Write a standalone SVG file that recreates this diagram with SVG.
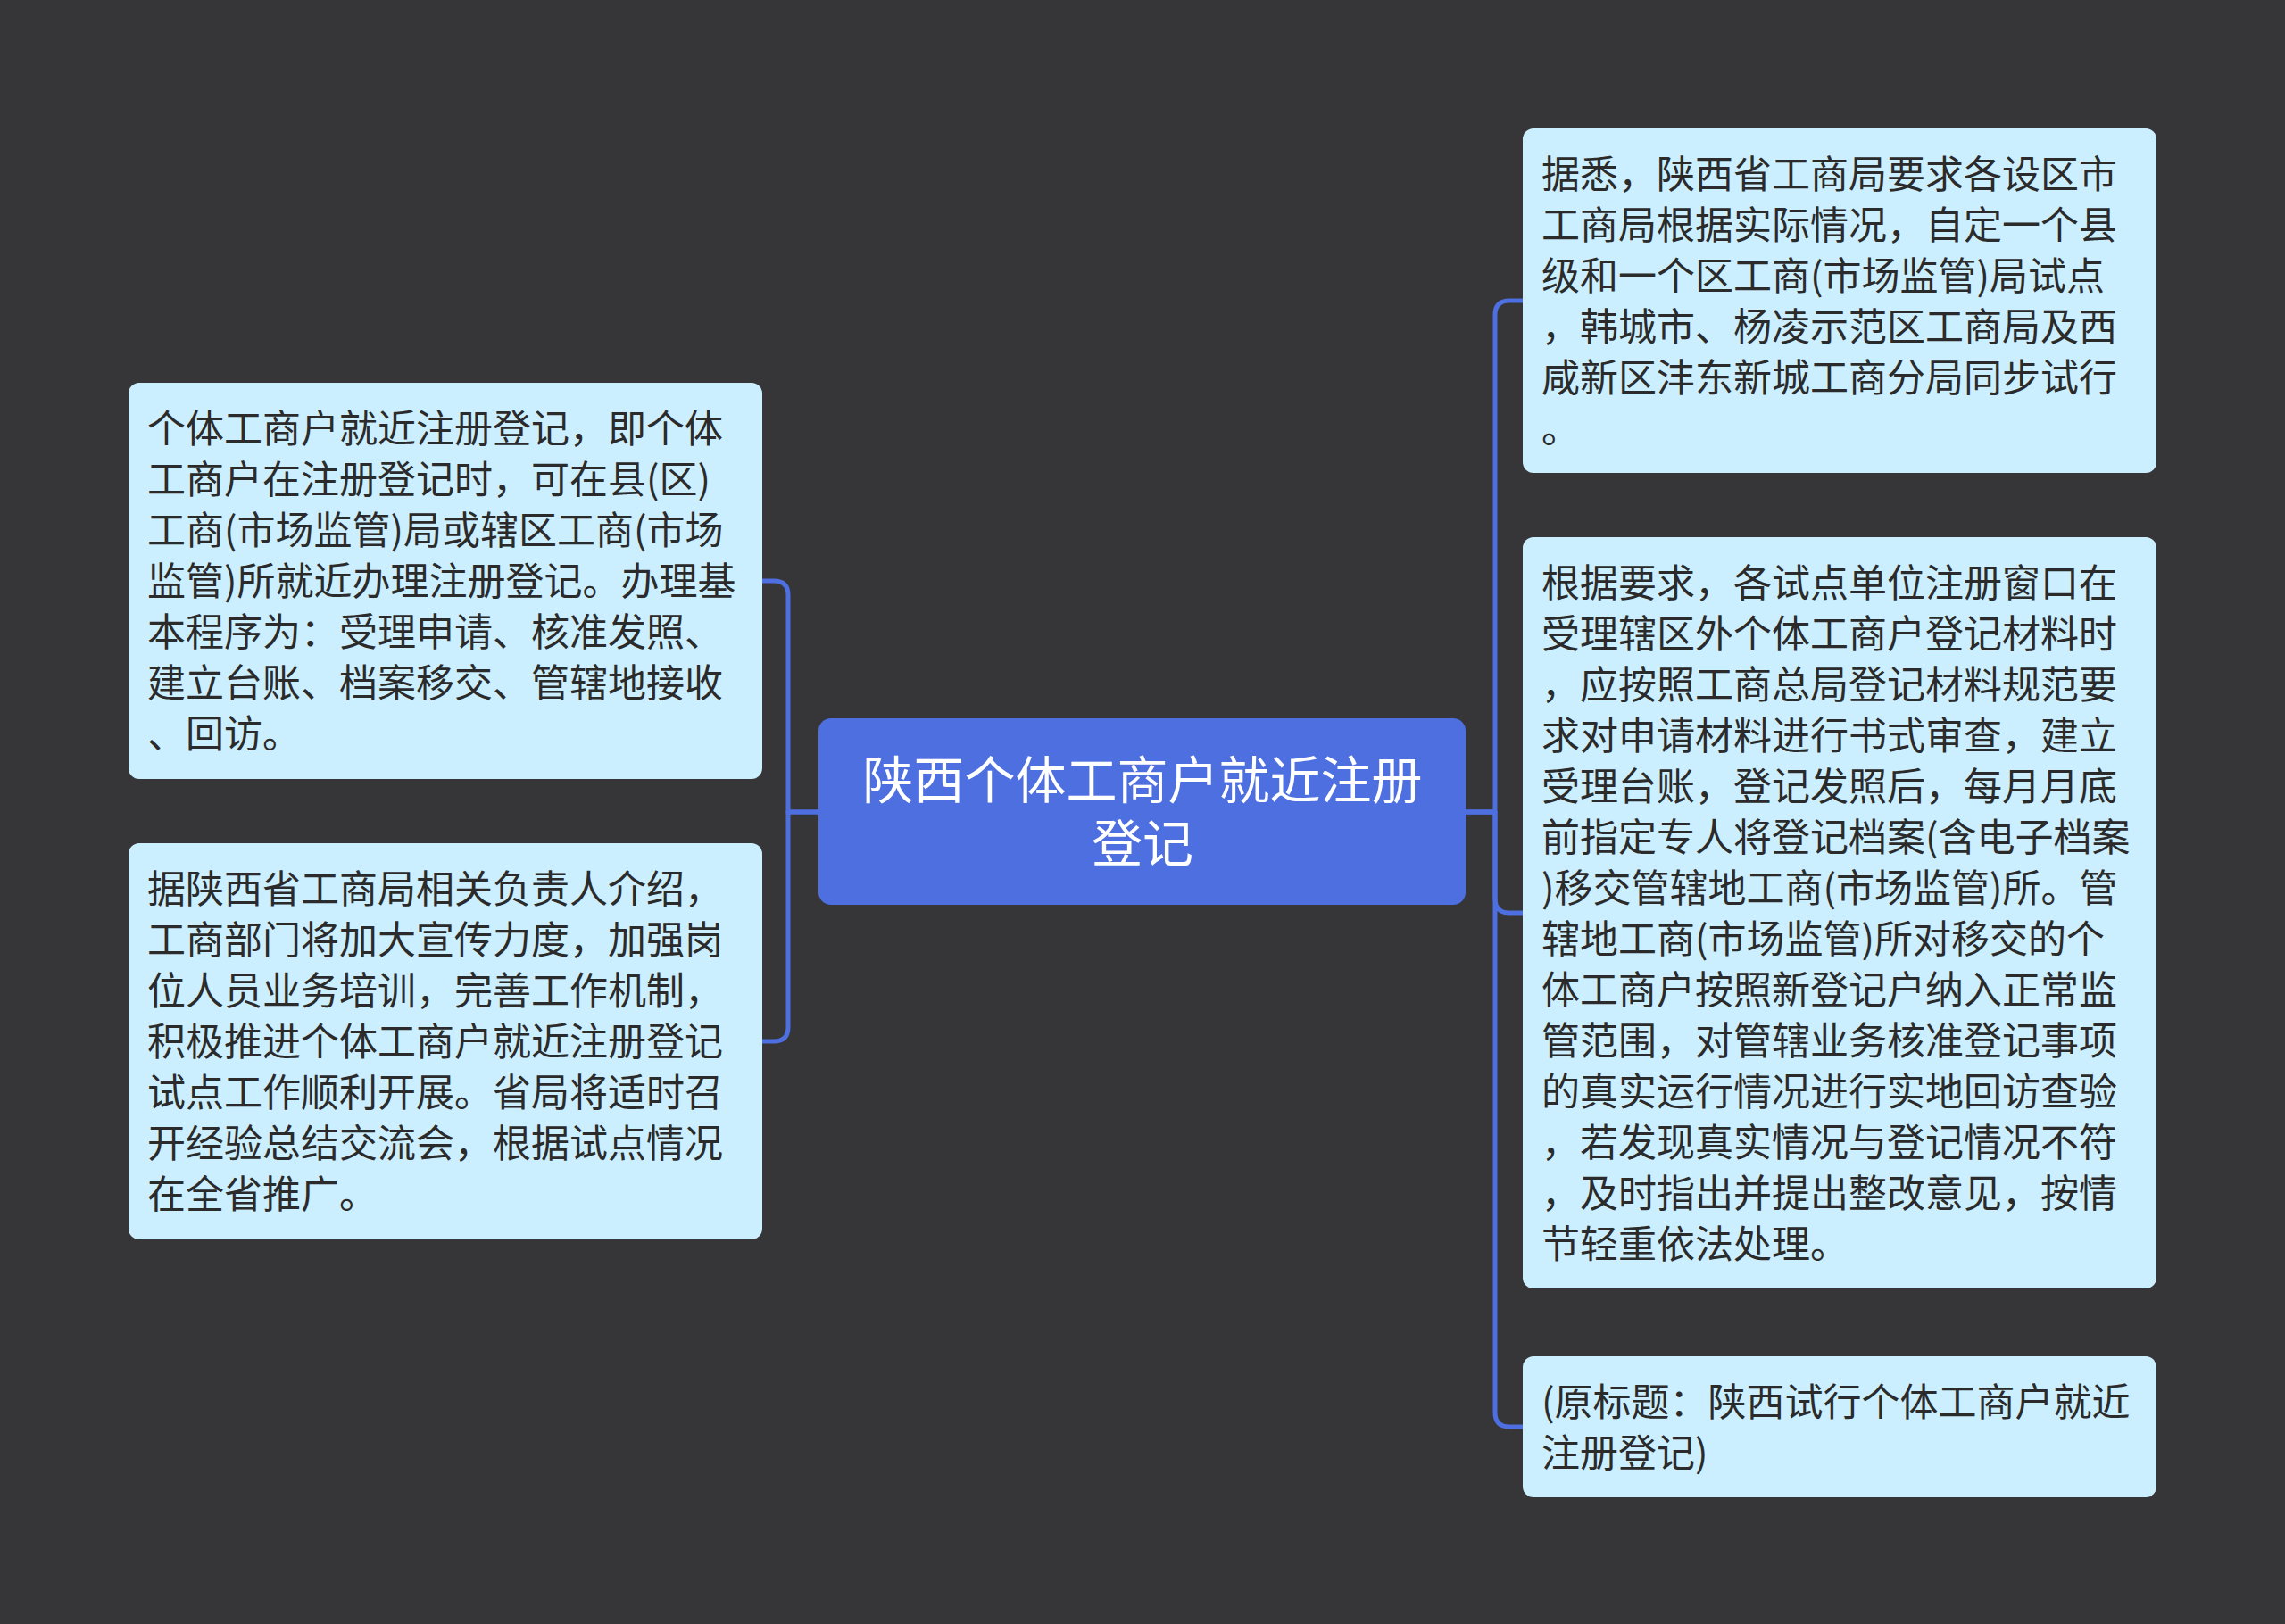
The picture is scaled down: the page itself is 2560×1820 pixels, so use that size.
<svg xmlns="http://www.w3.org/2000/svg" width="2560" height="1820" viewBox="0 0 2560 1820">
<style>
.bg{fill:#363537}
.conn{fill:none;stroke:#4e6fe0;stroke-width:5;stroke-linejoin:round}
.leaf{fill:#ccefff}
.root{fill:#4e6fe0}
.lt{font-family:"Noto Sans CJK SC","Noto Sans",sans-serif;font-size:43px;fill:#2b2b2b}
.rt{font-family:"Noto Sans CJK SC","Noto Sans",sans-serif;font-size:57px;fill:#ffffff}
</style>
<rect class="bg" x="0" y="0" width="2560" height="1820"/>
<g id="connectors">
<path class="conn" d="M 917 910 H 883 V 667 Q 883 651 867 651 H 854"/>
<path class="conn" d="M 917 910 H 883 V 1151 Q 883 1167 867 1167 H 854"/>
<path class="conn" d="M 1642 910 H 1675 V 353 Q 1675 337 1691 337 H 1706"/>
<path class="conn" d="M 1642 910 H 1675 V 1007 Q 1675 1023 1691 1023 H 1706"/>
<path class="conn" d="M 1642 910 H 1675 V 1583 Q 1675 1599 1691 1599 H 1706"/>
</g>
<g id="root">
<rect class="root" x="917" y="805" width="725" height="209" rx="14"/>
<text class="rt" text-anchor="middle"><tspan x="1280" y="895">陕西个体工商户就近注册</tspan><tspan x="1280" y="966">登记</tspan></text>
</g>
<g id="left1">
<rect class="leaf" x="144" y="429" width="710" height="444" rx="12"/>
<text class="lt"><tspan x="165" y="496">个体工商户就近注册登记，即个体</tspan><tspan x="165" y="553">工商户在注册登记时，可在县(区)</tspan><tspan x="165" y="610">工商(市场监管)局或辖区工商(市场</tspan><tspan x="165" y="667">监管)所就近办理注册登记。办理基</tspan><tspan x="165" y="724">本程序为：受理申请、核准发照、</tspan><tspan x="165" y="781">建立台账、档案移交、管辖地接收</tspan><tspan x="165" y="838">、回访。</tspan></text>
</g>
<g id="left2">
<rect class="leaf" x="144" y="945" width="710" height="444" rx="12"/>
<text class="lt"><tspan x="165" y="1012">据陕西省工商局相关负责人介绍，</tspan><tspan x="165" y="1069">工商部门将加大宣传力度，加强岗</tspan><tspan x="165" y="1126">位人员业务培训，完善工作机制，</tspan><tspan x="165" y="1183">积极推进个体工商户就近注册登记</tspan><tspan x="165" y="1240">试点工作顺利开展。省局将适时召</tspan><tspan x="165" y="1297">开经验总结交流会，根据试点情况</tspan><tspan x="165" y="1354">在全省推广。</tspan></text>
</g>
<g id="right1">
<rect class="leaf" x="1706" y="144" width="710" height="386" rx="12"/>
<text class="lt"><tspan x="1727" y="211">据悉，陕西省工商局要求各设区市</tspan><tspan x="1727" y="268">工商局根据实际情况，自定一个县</tspan><tspan x="1727" y="325">级和一个区工商(市场监管)局试点</tspan><tspan x="1727" y="382">，韩城市、杨凌示范区工商局及西</tspan><tspan x="1727" y="439">咸新区沣东新城工商分局同步试行</tspan><tspan x="1727" y="496">。</tspan></text>
</g>
<g id="right2">
<rect class="leaf" x="1706" y="602" width="710" height="842" rx="12"/>
<text class="lt"><tspan x="1727" y="669">根据要求，各试点单位注册窗口在</tspan><tspan x="1727" y="726">受理辖区外个体工商户登记材料时</tspan><tspan x="1727" y="783">，应按照工商总局登记材料规范要</tspan><tspan x="1727" y="840">求对申请材料进行书式审查，建立</tspan><tspan x="1727" y="897">受理台账，登记发照后，每月月底</tspan><tspan x="1727" y="954">前指定专人将登记档案(含电子档案</tspan><tspan x="1727" y="1011">)移交管辖地工商(市场监管)所。管</tspan><tspan x="1727" y="1068">辖地工商(市场监管)所对移交的个</tspan><tspan x="1727" y="1125">体工商户按照新登记户纳入正常监</tspan><tspan x="1727" y="1182">管范围，对管辖业务核准登记事项</tspan><tspan x="1727" y="1239">的真实运行情况进行实地回访查验</tspan><tspan x="1727" y="1296">，若发现真实情况与登记情况不符</tspan><tspan x="1727" y="1353">，及时指出并提出整改意见，按情</tspan><tspan x="1727" y="1410">节轻重依法处理。</tspan></text>
</g>
<g id="right3">
<rect class="leaf" x="1706" y="1520" width="710" height="158" rx="12"/>
<text class="lt"><tspan x="1727" y="1587">(原标题：陕西试行个体工商户就近</tspan><tspan x="1727" y="1644">注册登记)</tspan></text>
</g>
</svg>
